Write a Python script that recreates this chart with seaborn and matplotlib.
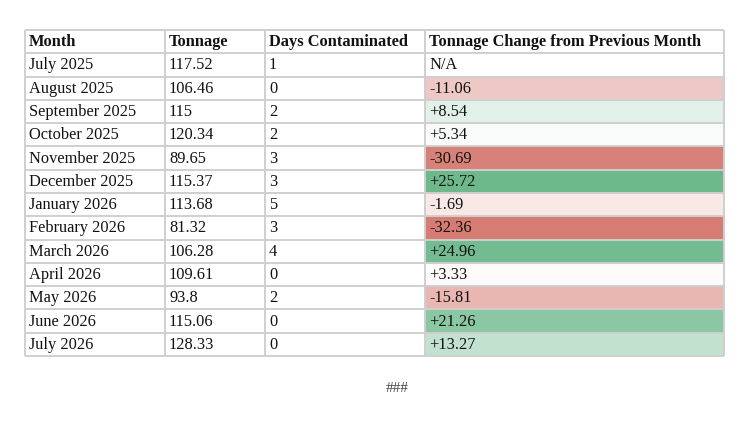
import numpy as np
import pandas as pd
import matplotlib
matplotlib.use("Agg")
import matplotlib.pyplot as plt
import seaborn as sns
from matplotlib.colors import LinearSegmentedColormap, TwoSlopeNorm

# ---- data ----
months = ["July 2025", "August 2025", "September 2025", "October 2025",
          "November 2025", "December 2025", "January 2026", "February 2026",
          "March 2026", "April 2026", "May 2026", "June 2026", "July 2026"]
tonnage = ["117.52", "106.46", "115", "120.34", "89.65", "115.37", "113.68",
           "81.32", "106.28", "109.61", "93.8", "115.06", "128.33"]
days = [1, 0, 2, 2, 3, 3, 5, 3, 4, 0, 2, 0, 0]
change = [np.nan, -11.06, 8.54, 5.34, -30.69, 25.72, -1.69, -32.36,
          24.96, 3.33, -15.81, 21.26, 13.27]
headers = ["Month", "Tonnage", "Days Contaminated",
           "Tonnage Change from Previous Month"]
footer = "###"

sns.set_theme(style="white")
plt.rcParams["font.family"] = ["Liberation Serif", "DejaVu Serif"]

W, H = 754, 424
fig = plt.figure(figsize=(W / 100, H / 100), dpi=100)
fig.patch.set_facecolor("white")

# table geometry in pixels
x0, x1 = 25, 724
y0, y1 = 30, 356
col_edges = [25, 165, 265, 425, 724]
nrows = len(months) + 1

def fx(px):
    return px / W

def fy(py):
    return 1 - py / H

# heatmap for last column
ax_h = fig.add_axes([fx(col_edges[3]), fy(y1), fx(col_edges[4]) - fx(col_edges[3]), fy(y0) - fy(y1)])
vals = np.array([np.nan] + change).reshape(-1, 1)
df = pd.DataFrame(vals, columns=["chg"])
cmap = LinearSegmentedColormap.from_list(
    "rg", [(214 / 255, 124 / 255, 114 / 255), (1, 1, 1), (110 / 255, 185 / 255, 140 / 255)])
finite = np.array([c for c in change if not np.isnan(c)])
norm = TwoSlopeNorm(vmin=finite.min(), vcenter=float(np.median(finite)), vmax=finite.max())
sns.heatmap(df, ax=ax_h, cmap=cmap, norm=norm, cbar=False, xticklabels=False,
            yticklabels=False, linewidths=0)
ax_h.set_xlabel("")
ax_h.set_ylabel("")
for s in ax_h.spines.values():
    s.set_visible(False)

# overlay axes for text and grid
ax = fig.add_axes([fx(x0), fy(y1), fx(x1) - fx(x0), fy(y0) - fy(y1)])
ax.set_xlim(x0, x1)
ax.set_ylim(nrows, 0)
ax.patch.set_alpha(0)
ax.set_zorder(3)
ax.set_xticks([])
ax.set_yticks([])
for s in ax.spines.values():
    s.set_visible(False)

grid_col = "#cfcfcf"
lw = 1.4
for r in range(nrows + 1):
    ax.plot([x0, x1], [r, r], color=grid_col, lw=lw, solid_capstyle="butt", clip_on=False)
for c in col_edges:
    ax.plot([c, c], [0, nrows], color=grid_col, lw=lw, solid_capstyle="butt", clip_on=False)

fs = 11.8
tc = "#111111"
pad = 4
for j, h in enumerate(headers):
    ax.text(col_edges[j] + pad, 0.52, h, fontsize=fs, fontweight="bold", color=tc,
            va="center", ha="left")

def fmt(v):
    if np.isnan(v):
        return "N/A"
    return f"{v:+.2f}"

for i in range(len(months)):
    y = i + 1.52
    row = [months[i], tonnage[i], str(days[i]), fmt(change[i])]
    for j, t in enumerate(row):
        ax.text(col_edges[j] + pad, y, t, fontsize=fs, color=tc, va="center", ha="left")

fig.text(fx(397), fy(389), footer, fontsize=11, color="#444444", ha="center", va="center")

fig.savefig("out.png", dpi=100, facecolor="white")
